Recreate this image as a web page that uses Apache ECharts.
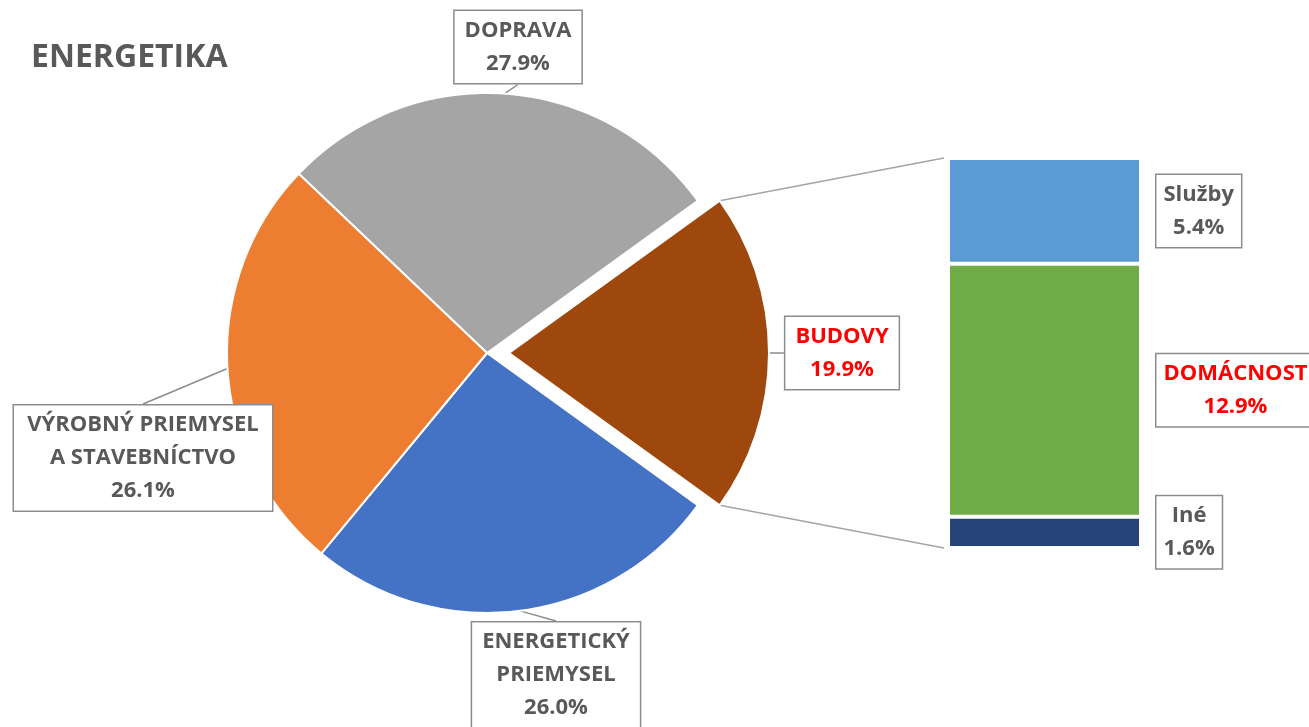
<!DOCTYPE html>
<html>
<head>
<meta charset="utf-8">
<script src="https://cdn.jsdelivr.net/npm/echarts@6/dist/echarts.min.js"></script>
<style>
  html, body { margin: 0; padding: 0; background: #fff; }
  #chart { width: 1309px; height: 727px; }
</style>
</head>
<body>
<div id="chart"></div>
<script>
// hodnoty z grafu
const pieNames = ['DOPRAVA', 'BUDOVY', 'ENERGETICKÝ\nPRIEMYSEL', 'VÝROBNÝ PRIEMYSEL\nA STAVEBNÍCTVO']
const pieValues = [27.9, 19.9, 26.0, 26.1]
const pieColors = ['#a5a5a5', '#9e480e', '#4472c4', '#ed7d31']
const barNames = ['Služby', 'DOMÁCNOST', 'Iné']
const barValues = [5.4, 12.9, 1.6]
const barColors = ['#5b9bd5', '#70ad47', '#264478']
const redLabels = ['BUDOVY', 'DOMÁCNOST']
const splitIndex = 1 // BUDOVY sa rozkladá na stĺpec

const textGray = '#595959'
const boxBorder = '#8c8c8c'
const font = 'Open Sans'

const pieCenter = [487, 353]
const pieRadius = 260
const explode = 22
const pieLabelPos = [[518, 47], [842, 353], [556, 675], [143, 458]]
const pieLabelWidth = [null, null, null, 238] // inak koláč text oreže

const barGrid = { left: 948, top: 158, width: 193, height: 390 }

const pieSum = pieValues.reduce((a, b) => a + b, 0)
const barSum = barValues.reduce((a, b) => a + b, 0)
// rozdeľovaný výsek centrovaný na vodorovnej osi
const before = pieValues.slice(0, splitIndex).reduce((a, b) => a + b, 0)
const startAngle = (before + pieValues[splitIndex] / 2) / pieSum * 360

const labelBox = {
  fontFamily: font,
  fontSize: 22,
  fontWeight: 'bold',
  lineHeight: 33,
  color: textGray,
  backgroundColor: '#fff',
  borderColor: boxBorder,
  borderWidth: 1.5,
  padding: [3, 10],
  align: 'center',
  overflow: 'none',
}

const fmt = p => p.name + '\n' + p.value.toFixed(1) + '%'
const hidden = {
  itemStyle: { color: 'transparent', borderWidth: 0 },
  label: { show: false },
  labelLine: { show: false },
}

// jeden koláč: visible(i) určuje, ktoré výseky sa kreslia
const pieSeries = (center, visible) => ({
  type: 'pie',
  center: center,
  radius: pieRadius,
  startAngle: startAngle,
  silent: true,
  emphasis: { disabled: true },
  itemStyle: { borderColor: '#fff', borderWidth: 2 },
  label: Object.assign({ show: true, formatter: fmt }, labelBox),
  labelLine: { show: true, length: 8, length2: 0, lineStyle: { color: boxBorder, width: 1.5 } },
  labelLayout: params => {
    const p = pieLabelPos[params.dataIndex]
    return { x: p[0], y: p[1], align: 'center', verticalAlign: 'middle' }
  },
  data: pieNames.map((n, i) => {
    const label = {}
    if (redLabels.includes(n)) label.color = '#ff0000'
    if (pieLabelWidth[i]) label.width = pieLabelWidth[i]
    return Object.assign({
      name: n,
      value: pieValues[i],
      itemStyle: { color: pieColors[i] },
      label: label,
    }, visible(i) ? {} : hidden)
  }),
})

const chart = echarts.init(document.getElementById('chart'))

const option = {
  animation: false,
  backgroundColor: '#fff',
  title: {
    text: 'ENERGETIKA',
    left: 26,
    top: 37,
    textStyle: { fontFamily: font, fontSize: 32, fontWeight: 'bold', color: textGray },
  },
  grid: Object.assign({ containLabel: false }, barGrid),
  xAxis: { type: 'category', data: ['x'], show: false },
  yAxis: { type: 'value', min: 0, max: barSum, show: false },
  series: [
    pieSeries(pieCenter, i => i !== splitIndex),
    pieSeries([pieCenter[0] + explode, pieCenter[1]], i => i === splitIndex),
  ].concat(barNames.map((n, i) => i).reverse().map(i => ({
    type: 'bar',
    name: barNames[i],
    stack: 'rest',
    barWidth: '100%',
    silent: true,
    emphasis: { disabled: true },
    itemStyle: { color: barColors[i], borderColor: '#fff', borderWidth: 2 },
    label: Object.assign({
      show: true,
      position: 'right',
      formatter: p => barNames[i] + '\n' + p.value.toFixed(1) + '%',
    }, labelBox, { color: redLabels.includes(barNames[i]) ? '#ff0000' : textGray, padding: [3, 7] }),
    labelLayout: params => ({
      x: params.rect.x + params.rect.width + 14 + params.labelRect.width / 2,
      y: params.rect.y + params.rect.height / 2,
      align: 'center',
      verticalAlign: 'middle',
    }),
    data: [barValues[i]],
  }))),
}

chart.setOption(option)

// spojovacie čiary od rozloženého výseku k stĺpcu
const half = pieValues[splitIndex] / pieSum * Math.PI
const cx = pieCenter[0] + explode
const cy = pieCenter[1]
const topPt = chart.convertToPixel({ gridIndex: 0 }, [0, barSum])
const botPt = chart.convertToPixel({ gridIndex: 0 }, [0, 0])
chart.setOption({
  graphic: [
    {
      type: 'line',
      shape: { x1: cx + pieRadius * Math.cos(half), y1: cy - pieRadius * Math.sin(half), x2: barGrid.left - 4, y2: topPt[1] },
      style: { stroke: '#a5a5a5', lineWidth: 1.5 },
    },
    {
      type: 'line',
      shape: { x1: cx + pieRadius * Math.cos(half), y1: cy + pieRadius * Math.sin(half), x2: barGrid.left - 4, y2: botPt[1] },
      style: { stroke: '#a5a5a5', lineWidth: 1.5 },
    },
  ],
})

window.addEventListener('resize', () => chart.resize())
</script>
</body>
</html>
